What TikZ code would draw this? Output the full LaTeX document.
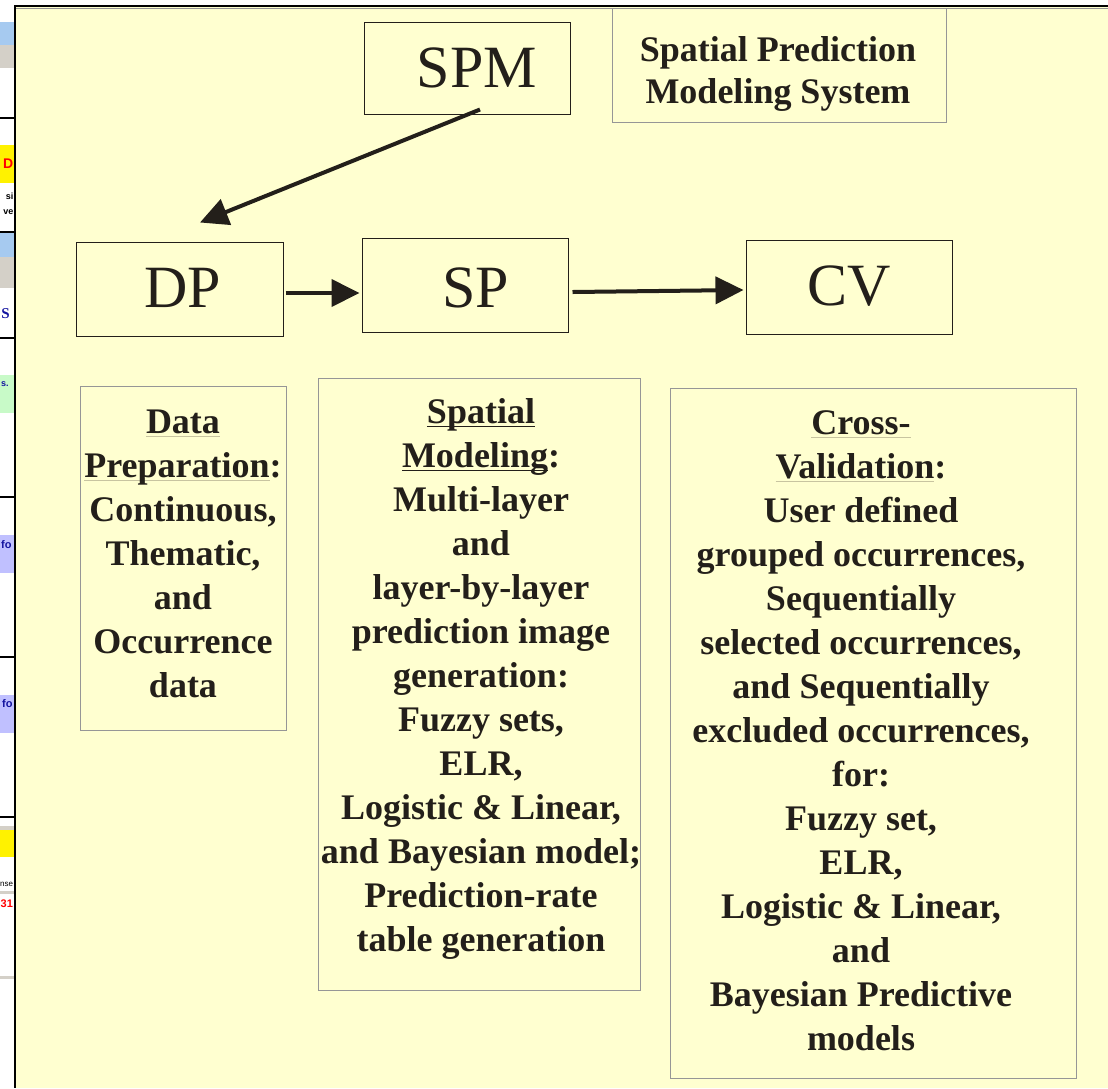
\documentclass[tikz,border=0pt]{standalone}
\usepackage{fontspec}
\setmainfont{Liberation Serif}
\newfontfamily\uifont{Liberation Sans}
\usetikzlibrary{arrows.meta,calc}

\definecolor{panel}{RGB}{255,255,208}
\definecolor{ink}{RGB}{35,31,26}
\definecolor{framegray}{RGB}{150,150,150}
\definecolor{ulight}{RGB}{200,196,160}
\definecolor{uiblue}{RGB}{166,202,240}
\definecolor{uigray}{RGB}{212,208,200}
\definecolor{uigreen}{RGB}{200,250,200}
\definecolor{uilav}{RGB}{192,192,255}
\definecolor{uitext}{RGB}{20,20,160}

% underline drawn a little below the baseline, through the descenders
\newcommand\ulword[2]{\setbox0\hbox{#2}\rlap{\color{#1}\rule[-4pt]{\wd0}{1.6pt}}\box0}

\tikzset{
  keybox/.style={draw=ink, line width=1pt, inner sep=0, minimum width=#1},
  keytext/.style={anchor=base, inner sep=0, text=ink, font=\fontsize{60}{60}\selectfont},
  notebox/.style={draw=framegray, line width=1pt, inner sep=0},
  notetext/.style={anchor=north, inner sep=0, text=ink, align=center,
                   font=\fontsize{36}{44}\selectfont\bfseries},
  flow/.style={draw=ink, line width=4pt, -{Triangle[length=28pt,width=27pt]}},
  frag/.style={inner sep=0, font=\uifont\bfseries\fontsize{11}{11}\selectfont}
}

\begin{document}
\begin{tikzpicture}[x=1pt,y=-1pt]
\useasboundingbox (0,0) rectangle (1108,1088);
\fill[white] (0,0) rectangle (1108,1088);

% window lying behind, only its right edge shows
\begin{scope}
  \clip (0,0) rectangle (14,1088);
  \fill[uiblue] (0,22) rectangle (14,45);
  \fill[uigray] (0,45) rectangle (14,68);
  \fill[black] (0,117) rectangle (14,119);
  \fill[yellow] (0,145) rectangle (14,183);
  \fill[black] (0,231) rectangle (14,233);
  \fill[uiblue] (0,233) rectangle (14,257);
  \fill[uigray] (0,257) rectangle (14,288);
  \fill[black] (0,337) rectangle (14,339);
  \fill[uigreen] (0,375) rectangle (14,413);
  \fill[black] (0,496) rectangle (14,498);
  \fill[uilav] (0,535) rectangle (14,573);
  \fill[black] (0,656) rectangle (14,658);
  \fill[uilav] (0,695) rectangle (14,733);
  \fill[black] (0,816) rectangle (14,818);
  \fill[uigray] (0,826) rectangle (14,830);
  \fill[yellow] (0,830) rectangle (14,857);
  \fill[uigray] (0,891) rectangle (14,894);
  \fill[uigray] (0,976) rectangle (14,979);
\end{scope}
\node[frag, text=red, anchor=east, font=\uifont\bfseries\fontsize{14}{14}\selectfont] (fragD) at (13.5,164) {D};
\node[frag, anchor=east, font=\uifont\bfseries\fontsize{9}{9}\selectfont] (fragsi) at (13.5,196) {si};
\node[frag, anchor=east, font=\uifont\bfseries\fontsize{9}{9}\selectfont] (fragve) at (13.5,212) {ve};
\node[frag, text=uitext, anchor=east, font=\bfseries\fontsize{15}{15}\selectfont] (fragS) at (10,314) {S};
\node[frag, text=uitext, anchor=west, font=\uifont\bfseries\fontsize{9}{9}\selectfont] (frags) at (1,384) {s.};
\node[frag, text=uitext, anchor=west] (fragfo) at (1,545) {fo};
\node[frag, text=uitext, anchor=west] (fragfob) at (2,704) {fo};
\node[frag, anchor=west, font=\uifont\fontsize{8}{8}\selectfont] (fragnse) at (0,884) {nse};
\node[frag, text=red, anchor=west] (frag31) at (0.5,904) {31};

% slide panel
\fill[panel] (14,6) rectangle (1108,1088);
\draw[black, line width=2pt] (15,6) -- (15,1088);
\draw[black, line width=1.5pt] (14,6) -- (1108,6);
\draw[framegray, line width=1pt] (16,8) -- (1108,8);

% key boxes
\node[keybox=206pt, minimum height=92pt] (spm) at (467,68) {};
\node[keytext] (spmlabel) at (477,87) {SPM};
\node[keybox=207pt, minimum height=94pt] (dp) at (179.5,289) {};
\node[keytext] (dplabel) at (183,307) {DP};
\node[keybox=206pt, minimum height=94pt] (sp) at (465,285) {};
\node[keytext] (splabel) at (476,307) {SP};
\node[keybox=206pt, minimum height=94pt] (cv) at (849,287) {};
\node[keytext] (cvlabel) at (849,305) {CV};

% title box
\node[notebox, minimum width=334pt, minimum height=114pt] (title) at (779,65) {};
\node[anchor=north, inner sep=0, text=ink, align=center,
      font=\fontsize{36}{42}\selectfont\bfseries] (titletext) at (778,34)
  {\rule{0pt}{27pt}Spatial Prediction\\Modeling System};

% arrows
\draw[flow] ($(spm.south)+(13,-5)$) -- ($(dp.north)+(20.5,-19)$);
\draw[flow] ($(dp.east)+(2,4)$) -- ($(sp.west)+(-2,8)$);
\draw[flow] ($(sp.east)+(4,7)$) -- ($(cv.west)+(-2,3)$);

% description boxes
\node[notebox, minimum width=206pt, minimum height=344pt] (dpnote) at (183,558) {};
\node[notetext] (dpnotetext) at (183,403)
  {\rule{0pt}{30pt}\ulword{ulight}{Data}\\
   \ulword{ulight}{Preparation}:\\
   Continuous,\\Thematic,\\and\\Occurrence\\data};

\node[notebox, minimum width=322pt, minimum height=612pt] (spnote) at (479,684) {};
\node[notetext] (spnotetext) at (481,393)
  {\rule{0pt}{30pt}\ulword{ink}{Spatial}\\
   \ulword{ink}{Modeling}:\\
   Multi-layer\\and\\layer-by-layer\\prediction image\\generation:\\
   Fuzzy sets,\\ELR,\\Logistic \& Linear,\\and Bayesian model;\\
   Prediction-rate\\table generation};

\node[notebox, minimum width=406pt, minimum height=690pt] (cvnote) at (873,733) {};
\node[notetext] (cvnotetext) at (861,404)
  {\rule{0pt}{30pt}\ulword{ulight}{Cross-}\\
   \ulword{ulight}{Validation}:\\
   User defined\\grouped occurrences,\\Sequentially\\selected occurrences,\\
   and Sequentially\\excluded occurrences,\\for:\\Fuzzy set,\\ELR,\\
   Logistic \& Linear,\\and\\Bayesian Predictive\\models};
\end{tikzpicture}
\end{document}
